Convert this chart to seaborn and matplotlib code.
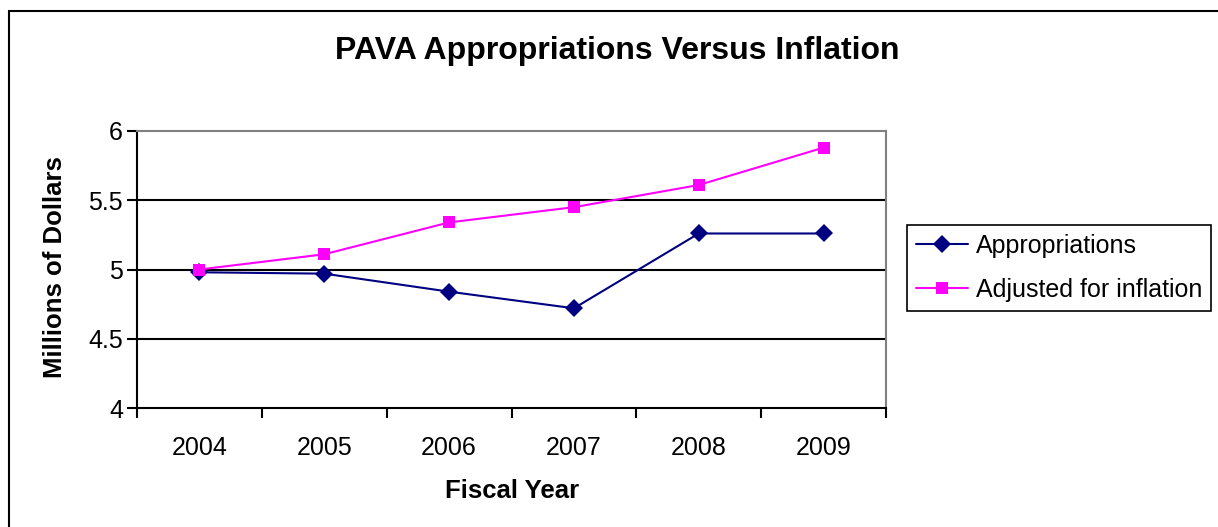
import matplotlib
matplotlib.use("Agg")
import matplotlib.pyplot as plt
import seaborn as sns
import pandas as pd
from matplotlib.patches import Rectangle
from matplotlib.ticker import FixedLocator

years = ["2004", "2005", "2006", "2007", "2008", "2009"]
appropriations = [4.98, 4.97, 4.84, 4.72, 5.26, 5.26]
adjusted = [5.0, 5.11, 5.34, 5.45, 5.61, 5.88]
series_names = ["Appropriations", "Adjusted for inflation"]
y_ticks = [4, 4.5, 5, 5.5, 6]

rows = []
for name, vals in zip(series_names, [appropriations, adjusted]):
    for i, (yr, v) in enumerate(zip(years, vals)):
        rows.append({"idx": i, "year": yr, "value": v, "series": name})
df = pd.DataFrame(rows)

sns.set_theme(style="white")
plt.rcParams["font.family"] = ["Liberation Sans", "DejaVu Sans"]
plt.rcParams["text.color"] = "black"
plt.rcParams["axes.labelcolor"] = "black"
plt.rcParams["xtick.color"] = "black"
plt.rcParams["ytick.color"] = "black"

fig = plt.figure(figsize=(12.18, 5.27), dpi=100)
ax = fig.add_axes([137/1218, 1 - 408/527, (886-137)/1218, (408-131)/527])

sns.lineplot(data=df, x="idx", y="value", hue="series", style="series",
             palette={"Appropriations": "#000080", "Adjusted for inflation": "#FF00FF"},
             markers={"Appropriations": "D", "Adjusted for inflation": "s"},
             dashes=False, markersize=9, linewidth=1.5, markeredgewidth=0,
             ax=ax)

ax.set_xlim(-0.5, 5.5)
ax.set_ylim(4, 6)
ax.set_xticks(range(len(years)))
ax.set_xticklabels(years)
ax.xaxis.set_minor_locator(FixedLocator([i - 0.5 for i in range(len(years) + 1)]))
ax.tick_params(axis="x", which="major", length=0, labelsize=18, pad=20, colors="black")
ax.tick_params(axis="x", which="minor", length=7, width=1.5, direction="out", color="black", bottom=True)
ax.set_yticks(y_ticks)
ax.set_yticklabels(["4", "4.5", "5", "5.5", "6"])
ax.tick_params(axis="y", length=7, width=1.5, direction="out", labelsize=18, color="black", left=True, pad=3)

for yv in [4.5, 5, 5.5]:
    ax.axhline(yv, color="black", linewidth=1.5, zorder=0.5)

for s in ["left", "bottom"]:
    ax.spines[s].set_color("black")
    ax.spines[s].set_linewidth(1.5)
for s in ["top", "right"]:
    ax.spines[s].set_color("#808080")
    ax.spines[s].set_linewidth(1.5)

ax.set_xlabel("")
ax.set_ylabel("")
fig.text(512/1218, 1 - 491/527, "Fiscal Year", ha="center", va="center",
         fontsize=18.5, fontweight="bold")
fig.text(55/1218, 1 - 267/527, "Millions of Dollars", ha="center", va="center",
         rotation=90, fontsize=18.5, fontweight="bold")

fig.text(617/1218, 1 - 51/527, "PAVA Appropriations Versus Inflation",
         ha="center", va="center", fontsize=23, fontweight="bold")

handles, labels = ax.get_legend_handles_labels()
leg = ax.legend(handles, labels, loc="center left", bbox_to_anchor=(907/1218, 1 - 268/527),
                bbox_transform=fig.transFigure, fontsize=18, frameon=True, fancybox=False,
                edgecolor="black", framealpha=1, handlelength=2.1, borderpad=0.35,
                labelspacing=0.8, handletextpad=0.3, borderaxespad=0)
leg.get_frame().set_linewidth(1.2)

fig.patches.append(Rectangle((9/1218, -0.1), 1.2, 1 - 11/527 + 0.1,
                             transform=fig.transFigure, fill=False,
                             edgecolor="black", linewidth=1.5))

fig.savefig("out.png", dpi=100)
